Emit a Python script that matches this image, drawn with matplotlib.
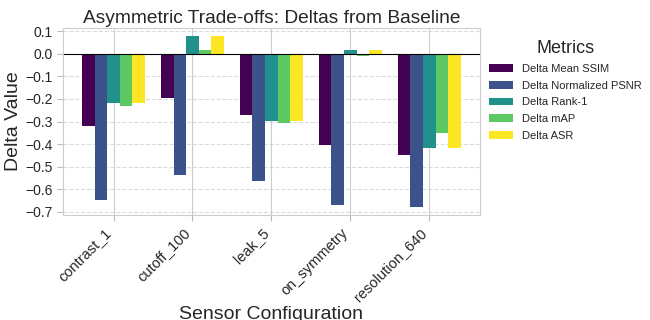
import numpy as np
import matplotlib.pyplot as plt
import seaborn as sns

sns.set_style("whitegrid")
plt.rcParams['font.family'] = ['Liberation Sans', 'DejaVu Sans']

configs = ["contrast_1", "cutoff_100", "leak_5", "on_symmetry", "resolution_640"]
metrics = ["Delta Mean SSIM", "Delta Normalized PSNR", "Delta Rank-1", "Delta mAP", "Delta ASR"]

delta_ssim = [-0.319, -0.196, -0.271, -0.403, -0.447]
delta_psnr = [-0.646, -0.538, -0.562, -0.668, -0.676]
delta_rank1 = [-0.218, 0.078, -0.297, 0.016, -0.416]
delta_map = [-0.231, 0.016, -0.306, -0.009, -0.350]
delta_asr = [-0.218, 0.078, -0.297, 0.016, -0.416]

series = [delta_ssim, delta_psnr, delta_rank1, delta_map, delta_asr]
colors = plt.cm.viridis(np.linspace(0, 1, len(series)))

fig, ax = plt.subplots(figsize=(6.5, 3.2), dpi=100)
x = np.arange(len(configs))
w = 0.8 / len(series)
for i, (vals, name) in enumerate(zip(series, metrics)):
    ax.bar(x - 0.4 + w * (i + 0.5), vals, w, color=colors[i], label=name, linewidth=0)

ax.axhline(0, color='black', linewidth=0.8)
ax.set_xticks(x)
ax.set_xticklabels(configs, rotation=45, ha='right', fontsize=10.5)
ax.tick_params(axis='y', labelsize=10, length=4, color='#bbbbbb', left=True)
ax.tick_params(axis='x', length=4, color='#bbbbbb', bottom=True)
ax.set_yticks(np.arange(-0.7, 0.11, 0.1))
ax.grid(axis='y', linestyle='--', alpha=0.7)
ax.set_title("Asymmetric Trade-offs: Deltas from Baseline", fontsize=13.8, pad=3)
ax.set_xlabel("Sensor Configuration", fontsize=14, labelpad=2)
ax.set_ylabel("Delta Value", fontsize=14, labelpad=2)
ax.legend(title="Metrics", bbox_to_anchor=(0.998, 0.985), loc='upper left',
          fontsize=8, title_fontsize=13, frameon=False, labelspacing=0.6,
          handlelength=2.2, handletextpad=0.8)

plt.subplots_adjust(left=0.097, right=0.738, top=0.914, bottom=0.328)
plt.savefig("out.png")
